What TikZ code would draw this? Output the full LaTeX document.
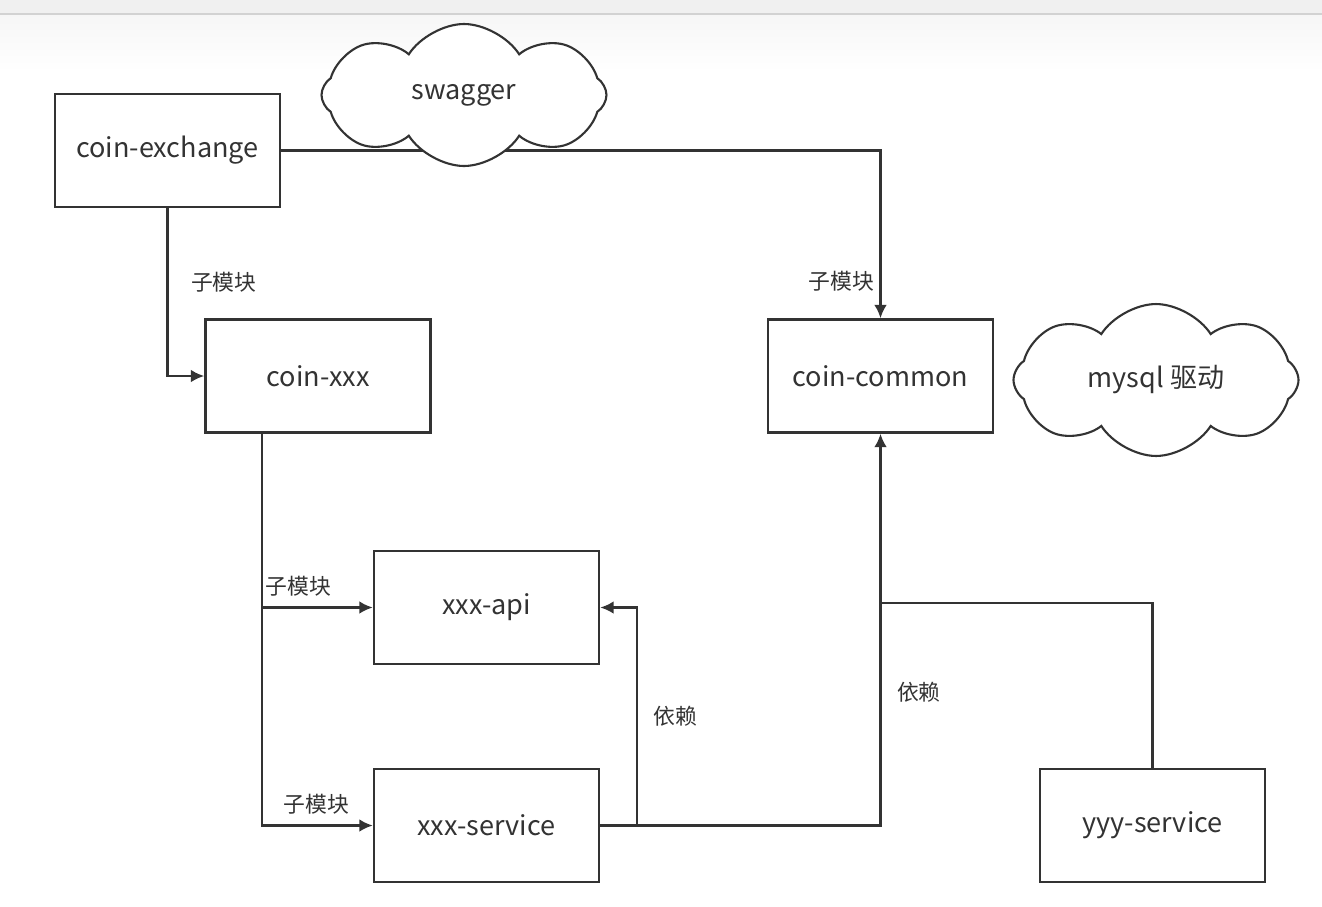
\documentclass[tikz,border=0pt]{standalone}
\usepackage{fontspec}
\setmainfont{Noto Sans CJK SC}
\usetikzlibrary{arrows,arrows.meta,positioning,shapes,calc}
\definecolor{ink}{HTML}{333333}

\begin{document}
\begin{tikzpicture}[
    module/.style={draw=ink, line width=0.7pt, minimum width=2.25cm, minimum height=1.13cm, text=ink, font=\fontsize{7.7}{9}\selectfont},
    puff/.style={cloud, cloud puffs=8, cloud puff arc=115, aspect=2, draw=ink, fill=white, line width=0.6pt, minimum width=2.85cm, minimum height=1.42cm, text=ink, font=\fontsize{7.7}{9}\selectfont},
    tag/.style={text=ink, font=\fontsize{6.2}{7}\selectfont, inner sep=1.5pt},
    link/.style={draw=ink, line width=0.7pt},
    >={Latex[length=3.8pt,width=3.6pt]}]
        \useasboundingbox (0,0) rectangle (13.22,-9.06);
        %screen top bar
        \fill[gray!12] (0,0) rectangle (13.22,-0.14);
        \shade[top color=gray!7, bottom color=white] (0,-0.14) rectangle (13.22,-0.72);
        \draw[gray!35, line width=0.3pt] (0,-0.14) -- (13.22,-0.14);
        %nodes
        \node[module] (ce) at (1.675,-1.505) {coin-exchange};
        \node[module] (cx) at (3.18,-3.76) {coin-xxx};
        \node[module] (cc) at (8.805,-3.76) {coin-common};
        \node[module] (api) at (4.865,-6.075) {xxx-api};
        \node[module] (svc) at (4.865,-8.255) {xxx-service};
        \node[module] (yyy) at (11.525,-8.255) {yyy-service};
        \coordinate (jn) at (8.805,-6.03);
        %edges
        \path [link,->] (ce.east) -| node[tag, pos=0.89, left]{子模块} (cc.north);
        \path [link,->] (ce.south) |- node[tag, pos=0.22, right=0.17cm]{子模块} (cx.west);
        \path [link,->] ([xshift=-0.56cm]cx.south) |- node[tag, pos=0.665, above=0.05cm]{子模块} (api.west);
        \path [link,->] ([xshift=-0.56cm]cx.south) |- node[tag, pos=0.745, above=0.05cm]{子模块} (svc.west);
        \path [link,->] (svc.east) -- ++(0.37,0) |- node[tag, pos=0.25, right=0.1cm]{依赖} (api.east);
        \path [link,->] (svc.east) -| node[tag, pos=0.67, right=0.1cm]{依赖} (cc.south);
        \path [link] (yyy.north) |- (jn);
        %clouds
        \node[puff] (sw) at (4.64,-0.95) {swagger};
        \node[puff] (my) at (11.56,-3.8) {mysql 驱动};
\end{tikzpicture}
\end{document}
